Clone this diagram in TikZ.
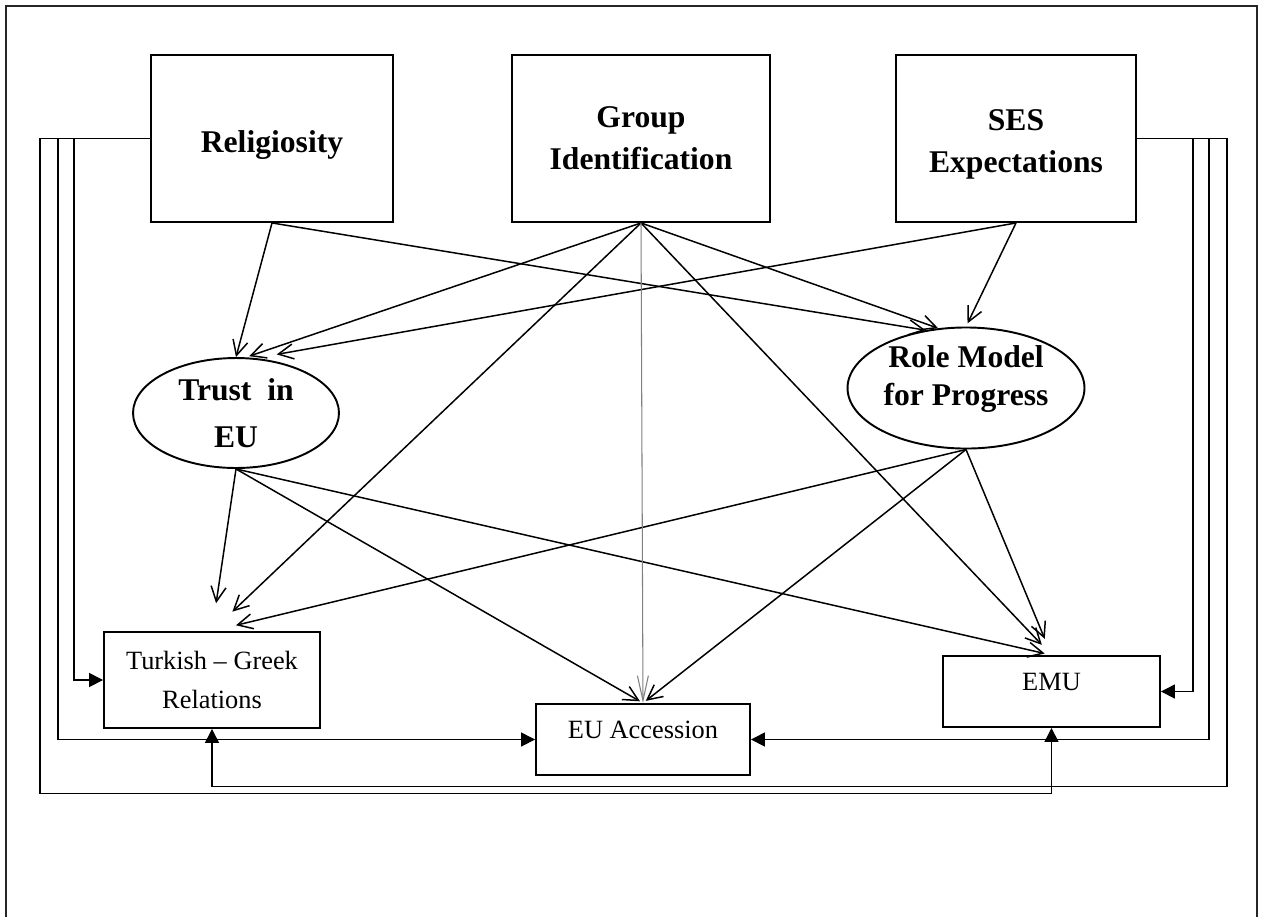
\documentclass[tikz,border=0pt]{standalone}
\usepackage{fontspec}
\setmainfont{Liberation Serif}
\usetikzlibrary{shapes.geometric, arrows.meta}

\begin{document}
\begin{tikzpicture}[x=0.02cm, y=-0.02cm,
    kasten/.style={draw, line width=1.1pt, inner sep=0pt, align=center},
    gross/.style={kasten, font=\fontsize{18}{24}\selectfont\bfseries},
    klein/.style={kasten, font=\fontsize{15}{22}\selectfont},
    oval/.style={ellipse, draw, line width=1.1pt, inner sep=0pt, align=center,
                 font=\fontsize{18}{22}\selectfont\bfseries},
    pfeil/.style={line width=0.85pt, -{Straight Barb[length=3mm, width=3mm]}},
    grau/.style={gray, line width=0.6pt, -{Straight Barb[length=5mm, width=2.2mm]}},
    leitung/.style={line width=0.85pt, -{Triangle[length=2.8mm, width=2.8mm]}}]

    % 1. Rahmen
    \useasboundingbox (0,0) rectangle (1263,917);
    \draw[line width=0.9pt, black!85] (6,917) -- (6,6) -- (1257,6) -- (1257,917);

    % 2. Obere Kasten
    \node[gross, minimum width=4.84cm, minimum height=3.34cm] (rel) at (272,138.5) {\rule{0pt}{20pt}Religiosity};
    \node[gross, minimum width=5.16cm, minimum height=3.34cm] (gi) at (641,138.5) {Group\\Identification};
    \node[gross, minimum width=4.8cm, minimum height=3.34cm] (ses) at (1016,138.5) {\rule{0pt}{19pt}SES\\Expectations};

    % 3. Ellipsen
    \node[oval, minimum width=4.12cm, minimum height=2.2cm] (trust) at (236,413) {Trust~ in\\[5pt]EU};
    \node[oval, minimum width=4.74cm, minimum height=2.4cm, text depth=0.5cm] (role) at (966,388) {Role Model\\for Progress};

    % 4. Untere Kasten
    \node[klein, minimum width=4.32cm, minimum height=1.92cm] (tgr) at (212,680) {Turkish -- Greek\\Relations};
    \node[klein, minimum width=4.28cm, minimum height=1.42cm, text depth=0.4cm] (eua) at (643,739.5) {EU Accession};
    \node[klein, minimum width=4.34cm, minimum height=1.42cm, text depth=0.4cm] (emu) at (1051.5,691.5) {EMU};

    % 5. Pfeile
    \foreach \a/\b/\s in {rel.south/trust.north/0, rel.south/role.125/0,
                          gi.south/trust.80/2, gi.south/tgr.north/16, gi.south/emu.north/8,
                          gi.south/role.115/0, ses.south/trust.70/12, ses.south/role.north/2,
                          trust.south/tgr.north/16, trust.south/eua.north/2, trust.south/emu.north/4,
                          role.south/tgr.north/14, role.south/eua.north/2, role.south/emu.north/10}
        \draw[pfeil, shorten >=\s] (\a) -- (\b);
    \draw[grau] (gi.south) -- (eua.north);

    % 6. Leitungen links
    \draw[leitung] (rel.west) -- ++(-76,0) |- (tgr.west);
    \draw[leitung] (rel.west) -- ++(-92,0) |- (eua.west);
    \draw[leitung] (rel.west) -- ++(-110,0) -- ++(0,655) -| (emu.south);

    % 7. Leitungen rechts
    \draw[leitung] (ses.east) -- ++(56,0) |- (emu.east);
    \draw[leitung] (ses.east) -- ++(72,0) |- (eua.east);
    \draw[leitung] (ses.east) -- ++(90,0) -- ++(0,648) -| (tgr.south);
\end{tikzpicture}
\end{document}
